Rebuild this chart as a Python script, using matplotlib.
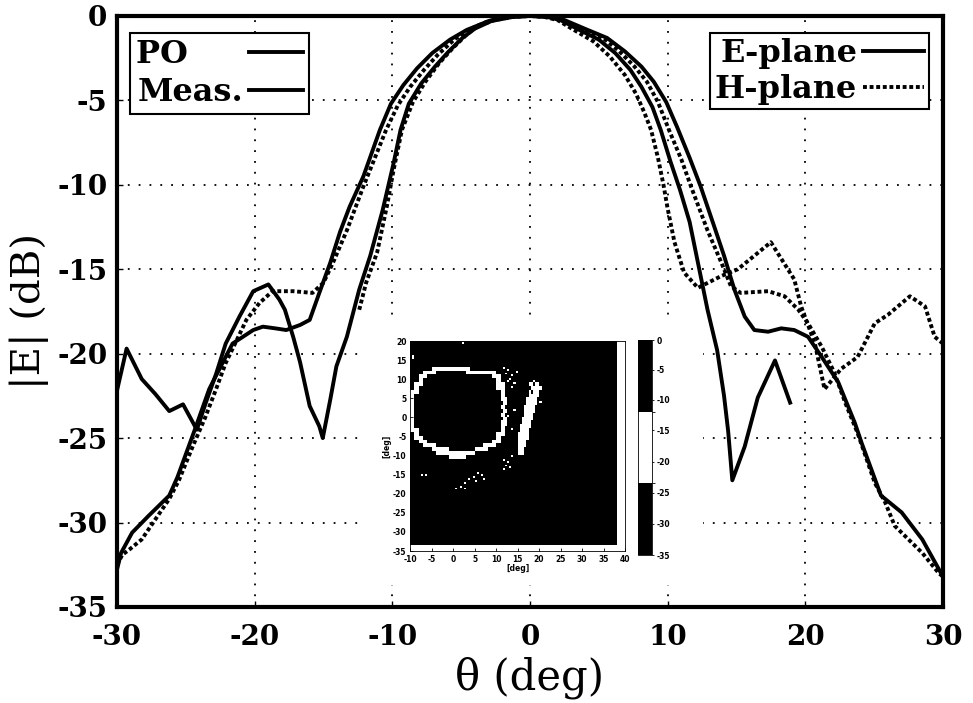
import numpy as np
import matplotlib
matplotlib.use("Agg")
from matplotlib import pyplot as plt
from matplotlib.colors import ListedColormap, BoundaryNorm
from matplotlib.lines import Line2D

plt.rcParams["axes.unicode_minus"] = False

# PO, E-plane (solid)
po_e_theta = [-30, -29.7, -28.9, -27.7, -26.2, -25.6, -24.3, -23.3, -22.3, -21.6, -20.1, -19.4,
              -18.5, -17.7, -16.7, -16.0, -15.3, -14.5, -13.8, -13.1, -12.1, -10.9, -10.1, -9.2,
              -8.2, -7.1, -5.8, -4.6, -3.0, -1.5, 0, 1.5, 2.5, 4.2, 5.6, 6.9, 8.1, 9.0, 9.9, 10.7,
              11.6, 12.4, 13.4, 14.1, 14.85, 15.6, 16.3, 17.3, 18.25, 19.2, 20.2, 21.2, 22.4, 23.6,
              24.1, 25.5, 27.0, 28.5, 30]
po_e_db = [-32.8, -31.8, -30.6, -29.6, -28.4, -27.3, -24.4, -22.1, -20.5, -19.4, -18.6, -18.4,
           -18.5, -18.6, -18.3, -18.0, -16.4, -14.6, -12.8, -11.3, -9.5, -6.75, -5.2, -4.1,
           -3.1, -2.2, -1.4, -0.83, -0.3, -0.05, 0, -0.05, -0.24, -0.83, -1.3, -2.1, -3.0, -3.9,
           -5.1, -6.6, -8.4, -10.1, -12.5, -14.2, -16.2, -17.8, -18.6, -18.7, -18.5, -18.6,
           -19.0, -20.2, -21.7, -24.1, -25.3, -28.4, -29.4, -31.0, -33.2]

# PO, H-plane (dotted)
po_h_theta = [-30, -29.6, -29.1, -28.2, -27.2, -26.2, -25.5, -24.5, -23.6, -22.8, -22.1, -21.3,
              -20.6, -19.65, -18.7, -17.2, -15.8, -15.0, -14.3, -13.3, -12.1, -10.45, -9.6, -8.7,
              -7.7, -6.7, -5.5, -4.4, -3.0, -1.5, 0, 1.5, 2.3, 3.9, 5.3, 6.5, 7.6, 8.5, 9.3, 10.1,
              11.0, 11.7, 12.9, 13.9, 14.6, 15.3, 17.3, 18.5, 19.5, 20.2, 21.2, 22.1, 22.9, 23.8,
              25.05, 25.8, 26.5, 27.5, 28.5, 29.7, 30]
po_h_db = [-32.5, -31.9, -31.6, -31.0, -29.8, -28.6, -27.5, -25.5, -23.8, -22.1, -20.55, -19.2,
           -18.0, -17.0, -16.3, -16.3, -16.4, -15.8, -14.6, -12.7, -10.1, -6.75, -5.3, -4.2,
           -3.2, -2.3, -1.4, -0.8, -0.3, -0.05, 0, -0.05, -0.24, -0.8, -1.3, -2.1, -3.0, -3.9,
           -5.1, -6.75, -8.5, -10.1, -12.7, -14.6, -16.0, -16.4, -16.3, -16.6, -17.4, -18.2,
           -19.6, -21.1, -22.9, -24.7, -27.65, -28.8, -30.2, -31.0, -31.8, -33.0, -33.2]

# Measured, E-plane (solid)
meas_e_theta = [-30, -29.3, -28.2, -27.2, -26.2, -25.2, -24.2, -23.5, -22.8, -22.1, -21.1, -20.1,
                -19.0, -18.2, -17.8, -17.2, -16.7, -16.0, -15.3, -15.05, -14.5, -14.06, -13.3,
                -12.4, -11.6, -10.7, -9.9, -9.4, -8.8, -7.9, -6.9, -5.9, -4.9, -4.0, -2.8, -1.2,
                0, 1.2, 2.2, 3.6, 5.0, 6.2, 7.3, 8.1, 8.9, 9.5, 10.2, 10.9, 11.6, 12.2, 12.9,
                13.6, 14.1, 14.4, 14.7, 15.6, 16.55, 17.8, 18.9]
meas_e_db = [-22.2, -19.7, -21.5, -22.4, -23.4, -23.0, -24.5, -22.8, -21.2, -19.4, -17.8, -16.3,
             -15.9, -16.8, -17.4, -19.0, -20.5, -23.1, -24.3, -25.0, -22.7, -20.75, -19.0,
             -16.2, -14.2, -11.5, -8.7, -6.75, -5.2, -4.0, -3.0, -2.1, -1.3, -0.75, -0.3, -0.05,
             0, -0.05, -0.24, -0.83, -1.4, -2.2, -3.2, -4.2, -5.4, -6.75, -8.6, -10.3, -12.2,
             -14.6, -17.4, -19.8, -22.5, -24.6, -27.5, -25.5, -22.6, -20.4, -22.9]

# Measured, H-plane (dotted)
meas_h_theta = [-12.4, -11.9, -11.1, -10.4, -9.9, -9.3, -8.5, -7.6, -6.6, -5.6, -4.6, -3.8, -2.6,
                -1.2, 0, 1.0, 2.0, 3.2, 4.6, 5.8, 6.9, 7.7, 8.3, 8.8, 9.3, 9.7, 10.0, 10.5, 11.2,
                12.2, 13.9, 15.1, 17.5, 19.2, 19.7, 20.7, 21.4, 22.6, 23.8, 25.05, 26.0, 27.6,
                28.7, 29.4, 30]
meas_h_db = [-17.4, -15.8, -14.0, -11.3, -9.1, -6.75, -5.1, -3.9, -2.8, -1.9, -1.1, -0.6, -0.25,
             -0.05, 0, -0.05, -0.24, -0.83, -1.5, -2.4, -3.5, -4.6, -5.7, -6.75, -8.4, -10.0,
             -11.4, -13.4, -15.2, -16.1, -15.4, -15.0, -13.4, -15.6, -17.2, -19.4, -22.1, -20.9,
             -20.2, -18.2, -17.7, -16.6, -17.2, -19.0, -19.4]

x_ticks = [-30, -20, -10, 0, 10, 20, 30]
y_ticks = [0, -5, -10, -15, -20, -25, -30, -35]

# inset map: white cells (level between -23.5 and -12 dB), rows are 1 deg tall
ring_rows = {
    12: [(-5, 4)], 11: [(-7, -4), (3, 10)], 10: [(-8, -6), (9, 11)], 9: [(-8, -7), (10, 11)],
    8: [(-9, -7), (10, 12)], 7: [(-9, -8), (10, 12)], 6: [(-10, -8), (11, 12)],
    5: [(-10, -9), (11, 12)], 4: [(-10, -9), (11, 12.5)], 3: [(-10, -9), (11.5, 12.5)],
    2: [(-10, -9), (11, 12)], 1: [(-10, -9), (11.5, 12.5)], 0: [(-10, -9), (11, 12)],
    -1: [(-10, -9), (11.5, 12.5)], -2: [(-10, -9), (11, 12.5)], -3: [(-10, -9), (11, 12)],
    -4: [(-10, -8), (11, 12)], -5: [(-9, -8), (10, 12)], -6: [(-9, -7), (10, 11)],
    -7: [(-8, -6), (9, 11)], -8: [(-7, -4), (7, 10)], -9: [(-5, -1), (5, 8)],
    -10: [(-4, 5)], -11: [(-1, 3)],
}
lobe_rows = {
    8: [(17.5, 18.5), (19, 20)], 7: [(18, 20.5)], 6: [(17.5, 18), (18.5, 20)], 5: [(17.5, 20)],
    4: [(17, 19.5)], 3: [(17, 19.5)], 2: [(16.5, 19)], 1: [(16.5, 19)], 0: [(16.5, 18.5)],
    -1: [(16, 18.5)], -2: [(16, 18)], -3: [(15.5, 18)], -4: [(15.5, 17.5)], -5: [(15, 17.5)],
    -6: [(15, 17.5)], -7: [(15, 17)], -8: [(15, 17)], -9: [(15, 16.5)], -10: [(15, 16.5)],
}
speckles = [(12, 13), (13, 12.5), (12.5, 11.5), (14, 11), (13.5, 10), (14.5, 9), (13, 9.5),
            (14, 8), (15, 12), (19, 9.5), (20.5, 4), (12, -11), (13, -11.5), (12.5, -12.5),
            (13.5, -13), (12, -13.5), (14, -10), (6, -14.5), (7, -15), (5, -15.5), (4, -16),
            (7.5, -16), (3, -17), (5.5, -16.5), (2, -18), (1, -18.5), (3, -18.5), (-7, -15),
            (-6, -15), (-9, 16), (-9, 15.5), (2.5, 19.5), (11.5, 4.5), (13, 0.5), (12.5, -2),
            (14, -3), (14.5, 2)]
map_ticks_x = [-10, -5, 0, 5, 10, 15, 20, 25, 30, 35, 40]
map_ticks_y = [20, 15, 10, 5, 0, -5, -10, -15, -20, -25, -30, -35]
cbar_ticks = [0, -5, -10, -15, -20, -25, -30, -35]

serif_b = {"family": "DejaVu Serif", "weight": "bold"}

fig = plt.figure(figsize=(9.73, 7.03), dpi=100)
ax = fig.add_axes([0.1202, 0.1366, 0.8489, 0.8407])

solid = dict(color="black", lw=2.8, solid_joinstyle="round")
dotted = dict(color="black", lw=2.8, linestyle=(0, (1, 0.7)))
ax.plot(po_e_theta, po_e_db, **solid, zorder=3)
ax.plot(po_h_theta, po_h_db, **dotted, zorder=3)
ax.plot(meas_e_theta, meas_e_db, **solid, zorder=3)
ax.plot(meas_h_theta, meas_h_db, **dotted, zorder=3)

ax.set_xlim(-30, 30)
ax.set_ylim(-35, 0)
ax.set_xticks(x_ticks)
ax.set_yticks(y_ticks)
ax.set_xticklabels([str(v) for v in x_ticks], fontdict=serif_b, fontsize=20)
ax.set_yticklabels([str(v) for v in y_ticks], fontdict=serif_b, fontsize=20)
ax.tick_params(direction="in", length=4, width=1)
ax.tick_params(axis="x", pad=12)
ax.tick_params(axis="y", pad=7)
ax.grid(True, color="black", linestyle=(0, (1, 5)), lw=1.3)
for sp in ax.spines.values():
    sp.set_linewidth(3)
ax.set_xlabel("θ (deg)", family="DejaVu Serif", fontsize=30, labelpad=4)
ax.set_ylabel("|E| (dB)", family="DejaVu Serif", fontsize=29, labelpad=6)

leg_font = {"family": "DejaVu Serif", "weight": "bold", "size": 23}
leg1 = ax.legend([Line2D([], [], **solid), Line2D([], [], **solid)],
                 ["PO" + " " * 5, "Meas."],
                 loc="upper left", bbox_to_anchor=(0.0157, 0.971), borderaxespad=0,
                 markerfirst=False, prop=leg_font, fancybox=False, framealpha=1,
                 edgecolor="black", handlelength=1.7, handletextpad=0.15, borderpad=0.2,
                 labelspacing=0.2)
leg1.get_frame().set_linewidth(1.5)
ax.add_artist(leg1)
leg2 = ax.legend([Line2D([], [], **solid), Line2D([], [], **dotted)], ["E-plane", "H-plane"],
                 loc="upper right", bbox_to_anchor=(0.983, 0.971), borderaxespad=0,
                 markerfirst=False, prop=leg_font, fancybox=False, framealpha=1,
                 edgecolor="black", handlelength=1.9, handletextpad=0.2, borderpad=0.15,
                 labelspacing=0.15)
leg2.get_frame().set_linewidth(1.5)

# white backing of the pasted inset
back = fig.add_axes([0.371, 0.168, 0.3515, 0.380])
back.set_facecolor("white")
back.set_xticks([])
back.set_yticks([])
for sp in back.spines.values():
    sp.set_visible(False)

# inset map
res = 0.5
xs = np.arange(-10, 38, res)
ys = np.arange(-33.5, 20, res)
field = np.full((len(ys), len(xs)), -30.0)
for rows in (ring_rows, lobe_rows):
    for y0, spans in rows.items():
        rsel = (ys >= y0) & (ys < y0 + 1)
        for x0, x1 in spans:
            csel = (xs >= x0) & (xs < x1)
            field[np.ix_(rsel, csel)] = -18.0
for px, py in speckles:
    ci = int(np.argmin(np.abs(xs + res / 2 - px)))
    ri = int(np.argmin(np.abs(ys + res / 2 - py)))
    field[ri, ci] = -18.0

cmap = ListedColormap(["black", "white", "black"])
norm = BoundaryNorm([-35, -23.5, -12, 0], cmap.N)
tiny = {"family": "DejaVu Sans", "weight": "bold", "size": 5.5}
iax = fig.add_axes([0.4214, 0.2162, 0.2210, 0.2987])
im = iax.imshow(field, extent=(xs[0], xs[-1] + res, ys[0], ys[-1] + res), origin="lower",
                cmap=cmap, norm=norm, interpolation="nearest", aspect="auto")
iax.set_xlim(-10, 40)
iax.set_ylim(-35, 20)
iax.set_xticks(map_ticks_x)
iax.set_yticks(map_ticks_y)
iax.set_xticklabels([str(v) for v in map_ticks_x], fontdict=tiny)
iax.set_yticklabels([str(v) for v in map_ticks_y], fontdict=tiny)
iax.tick_params(direction="in", length=2, width=0.6)
iax.tick_params(axis="x", pad=3)
iax.tick_params(axis="y", pad=2.5)
iax.set_xlabel("[deg]", fontdict=tiny, labelpad=0)
iax.set_ylabel("[deg]", fontdict=tiny, labelpad=1)
for sp in iax.spines.values():
    sp.set_linewidth(0.6)

cax = fig.add_axes([0.6557, 0.2105, 0.0144, 0.3058])
cb = fig.colorbar(im, cax=cax, ticks=cbar_ticks)
cb.outline.set_linewidth(0.6)
cax.set_ylim(-35, 0)
cax.set_yticklabels([str(v) for v in cbar_ticks], fontdict=tiny)
cax.tick_params(length=1.5, width=0.6, pad=1.5)

fig.savefig("out.png", dpi=100)
